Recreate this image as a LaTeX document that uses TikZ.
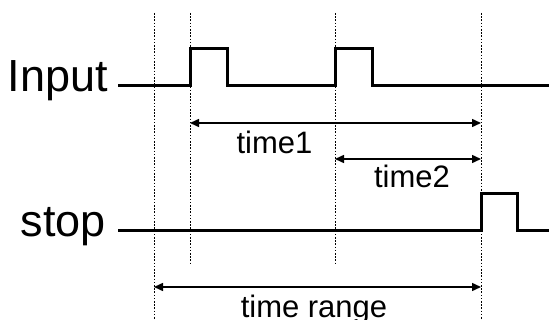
\documentclass[tikz,border=0pt]{standalone}
\usepackage{fontspec}
\setmainfont{Liberation Sans}
\usetikzlibrary{arrows.meta}
\begin{document}
\begin{tikzpicture}[x=1pt,y=-1pt,
  signal/.style={line width=3pt, line join=miter},
  guide/.style={line width=0.8pt, dash pattern=on 1.6pt off 1.6pt},
  span/.style={line width=1.5pt, {Triangle[length=9pt,width=8pt]}-{Triangle[length=9pt,width=8pt]}},
  biglabel/.style={font=\fontsize{45}{45}\selectfont, inner sep=0pt, anchor=base east},
  smalllabel/.style={font=\fontsize{31}{31}\selectfont, inner sep=0pt, anchor=base}]
\useasboundingbox (0,0) rectangle (549,320);
% guide lines
\draw[guide] (154,13) -- (154,320);
\draw[guide] (190,13) -- (190,265);
\draw[guide] (335,13) -- (335,265);
\draw[guide] (481,13) -- (481,320);
% labels
\node[biglabel] (input) at (108,92) {Input};
\node[biglabel] (stop) at (106,237) {stop};
% signals
\draw[signal] (118,86) -- (190,86) -- (190,49) -- (227,49) -- (227,86) -- (335,86) -- (335,49) -- (372,49) -- (372,86) -- (549,86);
\draw[signal] (118,231) -- (481,231) -- (481,194) -- (517,194) -- (517,231) -- (549,231);
% spans
\coordinate (t1a) at (190,123);
\coordinate (t1b) at (481,123);
\coordinate (t2a) at (335,159);
\coordinate (t2b) at (481,159);
\coordinate (tra) at (154,287);
\coordinate (trb) at (481,287);
\draw[span] (t1a) -- (t1b);
\draw[span] (t2a) -- (t2b);
\draw[span] (tra) -- (trb);
\node[smalllabel] (time1) at (274.5,154) {time1};
\node[smalllabel] (time2) at (412,188) {time2};
\node[smalllabel] (trange) at (314,318) {time range};
\end{tikzpicture}
\end{document}
